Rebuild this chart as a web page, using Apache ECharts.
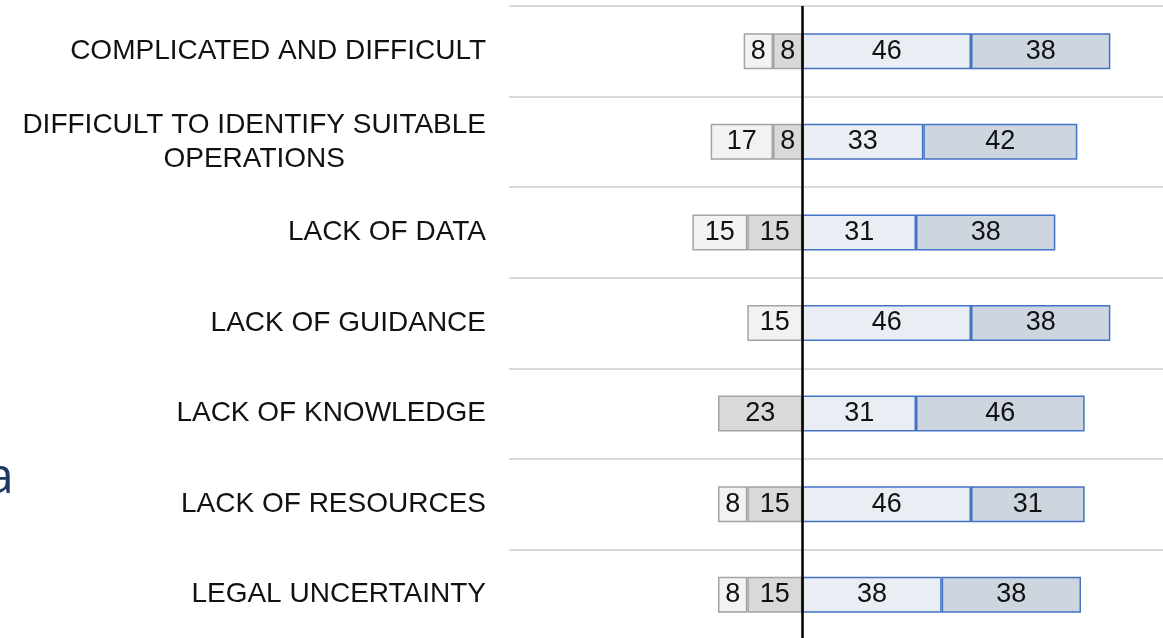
<!DOCTYPE html>
<html>
<head>
<meta charset="utf-8">
<style>
  html, body { margin: 0; padding: 0; background: #ffffff; }
  #chart { width: 1163px; height: 638px; }
</style>
<script src="https://cdn.jsdelivr.net/npm/echarts@6/dist/echarts.min.js"></script>
</head>
<body>
<div id="chart"></div>
<script>
const categories = [
  'COMPLICATED AND DIFFICULT',
  'DIFFICULT TO IDENTIFY SUITABLE\nOPERATIONS',
  'LACK OF DATA',
  'LACK OF GUIDANCE',
  'LACK OF KNOWLEDGE',
  'LACK OF RESOURCES',
  'LEGAL UNCERTAINTY'
];
// left side (outer, lightest)
const stronglyDisagree = [8, 17, 15, 15, null, 8, 8];
// left side (inner, next to axis)
const disagree = [8, 8, 15, null, 23, 15, 15];
// right side (inner)
const agree = [46, 33, 31, 46, 31, 46, 38];
// right side (outer)
const stronglyAgree = [38, 42, 38, 38, 46, 31, 38];

const chart = echarts.init(document.getElementById('chart'), null, { renderer: 'canvas' });

const FONT = '"Liberation Sans", Arial, sans-serif';
const neg = arr => arr.map(v => (v == null ? '-' : -v));
const labelCfg = {
  show: true,
  position: 'inside',
  fontSize: 27,
  fontFamily: FONT,
  color: '#111111',
  formatter: p => Math.abs(p.value)
};

const option = {
  animation: false,
  backgroundColor: '#ffffff',
  grid: { left: 509, top: 6, width: 660, height: 634, containLabel: false, outerBoundsMode: 'none' },
  xAxis: {
    type: 'value',
    min: -80,
    max: 100,
    axisLine: { show: false },
    axisTick: { show: false },
    axisLabel: { show: false },
    splitLine: { show: false }
  },
  yAxis: {
    type: 'category',
    inverse: true,
    data: categories,
    axisLine: { show: false },
    axisTick: { show: false },
    splitLine: { show: true, lineStyle: { color: '#dadada', width: 2 } },
    axisLabel: {
      margin: 23,
      fontSize: 28,
      lineHeight: 34,
      color: '#111111',
      fontFamily: FONT,
      formatter: v => v.indexOf('\n') >= 0
        ? v.split('\n').map(s => '{c|' + s + '}').join('\n')
        : v,
      rich: {
        c: {
          align: 'center',
          fontSize: 28,
          lineHeight: 34,
          color: '#111111',
          fontFamily: FONT
        }
      }
    }
  },
  graphic: [{
    type: 'text',
    left: -14,
    top: 454,
    silent: true,
    style: {
      text: 'a',
      fontSize: 50,
      fontFamily: '"Open Sans", "Noto Sans", sans-serif',
      fill: '#1f3864'
    }
  }],
  series: [
    {
      name: 'Disagree',
      type: 'bar',
      stack: 's',
      barWidth: 36,
      data: neg(disagree),
      itemStyle: { color: '#d9d9d9', borderColor: '#a3a3a3', borderWidth: 1.5 },
      label: labelCfg,
      markLine: {
        silent: true,
        symbol: ['none', 'none'],
        label: { show: false },
        lineStyle: { color: '#000000', width: 2.5, type: 'solid' },
        data: [{ xAxis: 0 }]
      }
    },
    {
      name: 'Strongly disagree',
      type: 'bar',
      stack: 's',
      barWidth: 36,
      data: neg(stronglyDisagree),
      itemStyle: { color: '#f2f2f2', borderColor: '#a3a3a3', borderWidth: 1.5 },
      label: labelCfg
    },
    {
      name: 'Agree',
      type: 'bar',
      stack: 's',
      barWidth: 36,
      data: agree,
      itemStyle: { color: '#e9edf4', borderColor: '#4472c4', borderWidth: 1.5 },
      label: labelCfg
    },
    {
      name: 'Strongly agree',
      type: 'bar',
      stack: 's',
      barWidth: 36,
      data: stronglyAgree,
      itemStyle: { color: '#cdd5df', borderColor: '#4472c4', borderWidth: 1.5 },
      label: labelCfg
    }
  ]
};

chart.setOption(option);
</script>
</body>
</html>
